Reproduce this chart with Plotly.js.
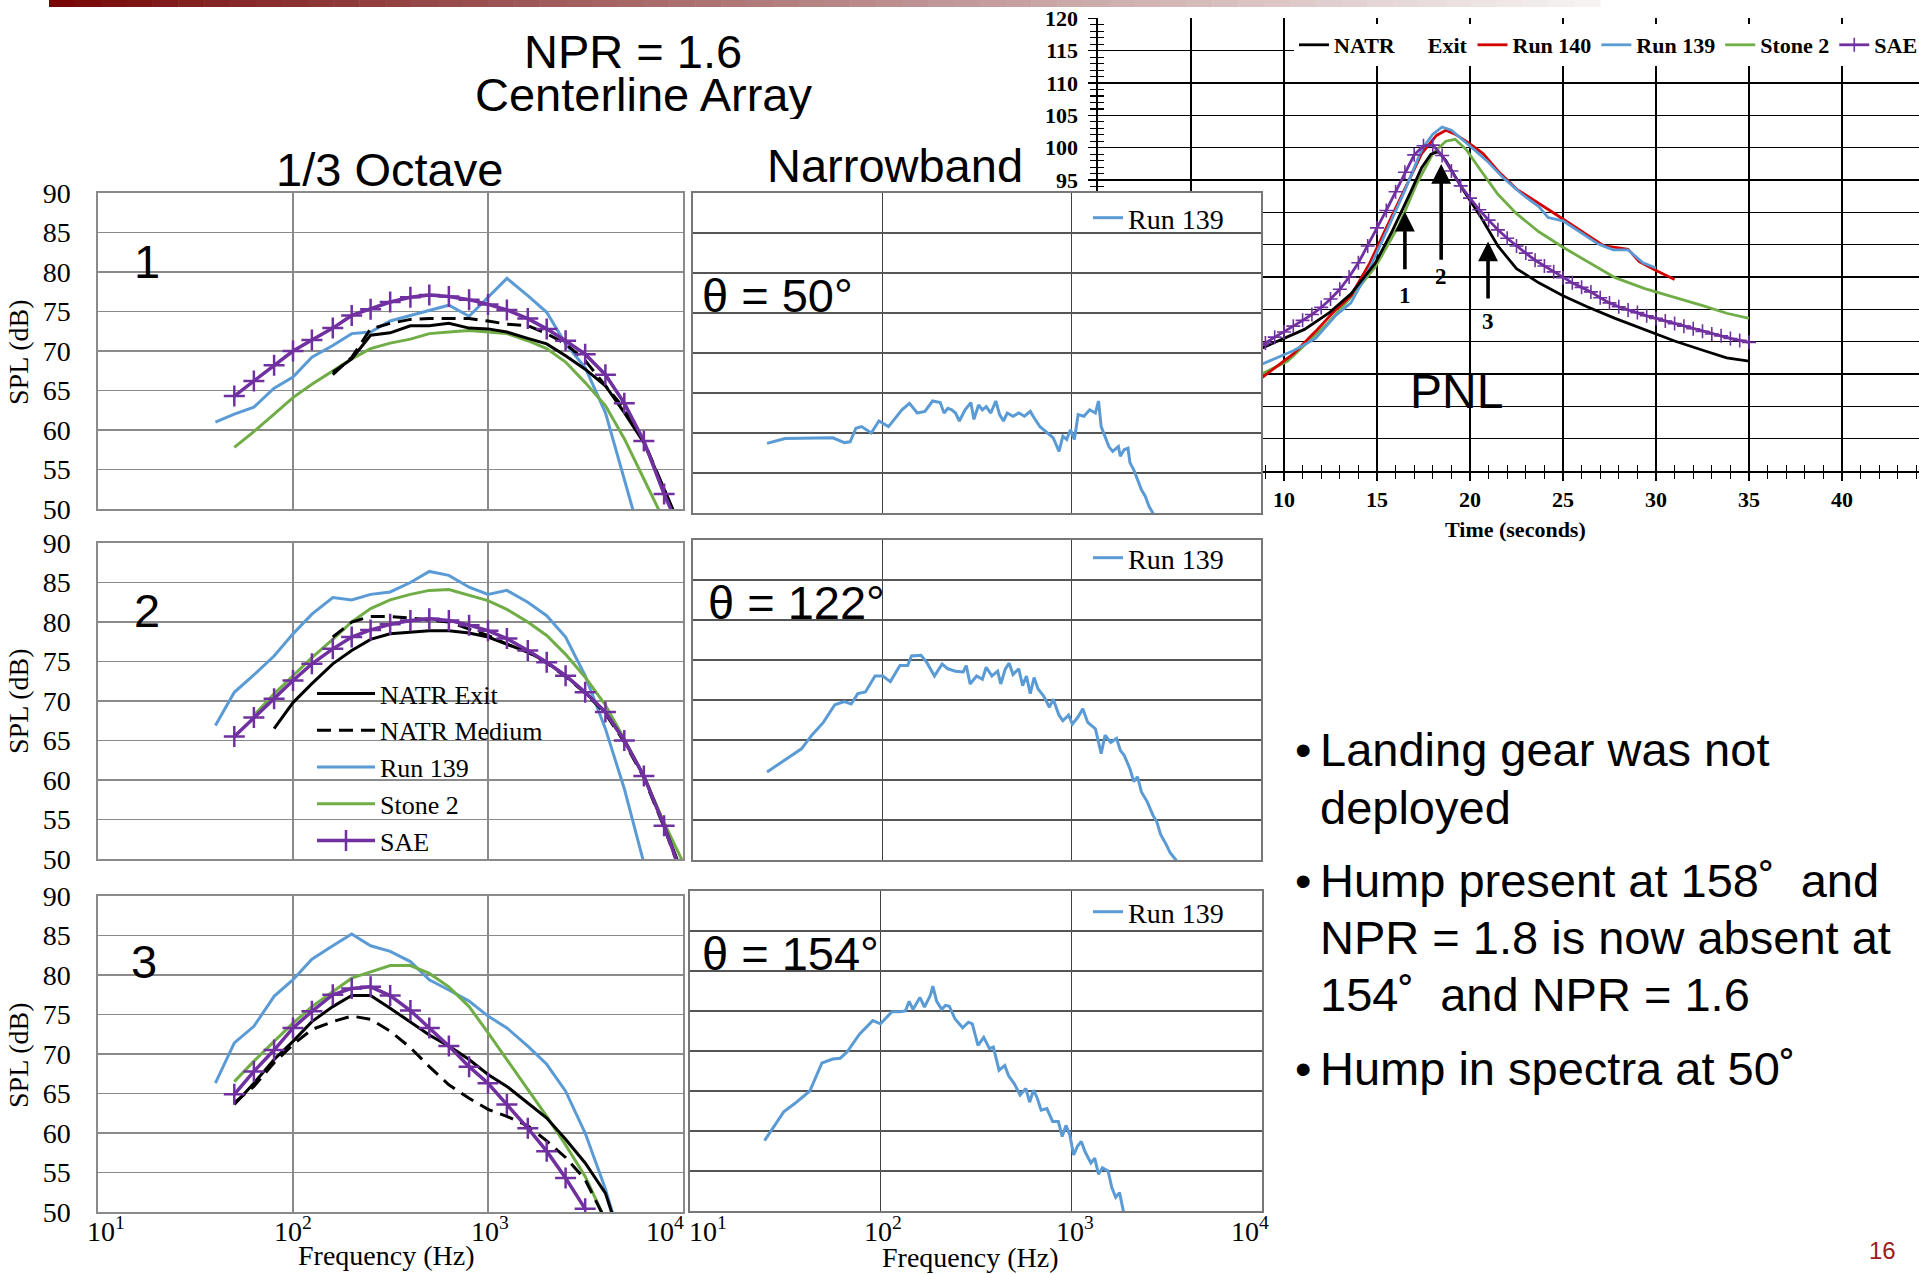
<!DOCTYPE html>
<html>
<head>
<meta charset="utf-8">
<script src="https://cdn.plot.ly/plotly-3.0.1.min.js"></script>
<style>
  html, body { margin: 0; padding: 0; background: #fff; overflow: hidden; }
  #chart { width: 1919px; height: 1274px; overflow: hidden; position: relative; }
</style>
</head>
<body>
<div id="chart"></div>
<script>
// ---------- 1/3-octave band centre frequencies (Hz) ----------
const THIRD_OCTAVE_HZ = [40, 50, 63, 80, 100, 125, 160, 200, 250, 315, 400, 500, 630,
  800, 1000, 1250, 1600, 2000, 2500, 3150, 4000, 5000, 6300, 8000, 10000];
const DECADE_TICKS = [10, 100, 1000, 10000];
const DECADE_LABELS = ['10<sup>1</sup>', '10<sup>2</sup>', '10<sup>3</sup>', '10<sup>4</sup>'];
const SPL_TICKS = [50, 55, 60, 65, 70, 75, 80, 85, 90];
const PNL_TIME_TICKS = [0, 5, 10, 15, 20, 25, 30, 35, 40, 45];
const PNL_LEVEL_TICKS = [50, 55, 60, 65, 70, 75, 80, 85, 90, 95, 100, 105, 110, 115, 120];

// ---------- Microphone 1 (1/3 octave, SPL dB) ----------
const P1_NATR_EXIT = [null, null, null, null, null, null, 67.3, 69.0, 72.0, 72.3, 73.2, 73.2, 73.5,
  72.9, 72.8, 72.4, 71.6, 70.9, 69.4, 67.7, 65.6, 62.2, 58.4, 52.5, 47.0];
const P1_NATR_MEDIUM = [null, null, null, null, null, null, 67.0, 69.2, 72.8, 73.5, 74.0, 74.1, 74.1,
  74.1, 73.8, 73.4, 73.2, 72.2, 70.9, 68.8, 65.6, 62.7, 58.6, 52.3, 46.8];
const P1_RUN139 = [61.0, 62.0, 62.9, 65.3, 66.7, 69.2, 70.7, 72.2, 72.4, 73.8, 74.5, 75.1, 75.8,
  74.4, 76.8, 79.2, 77.0, 74.9, 70.9, 67.9, 62.2, 53.6, 45.0, null, null];
const P1_STONE2 = [null, 57.8, 59.8, 62.0, 64.1, 65.8, 67.5, 69.0, 70.3, 71.0, 71.5, 72.2, 72.4,
  72.6, 72.4, 72.2, 71.3, 70.3, 68.6, 66.0, 63.1, 58.9, 53.8, 48.5, null];
const P1_SAE = [null, 64.3, 66.2, 68.2, 70.0, 71.4, 72.9, 74.5, 75.3, 76.2, 76.8, 77.1, 76.9,
  76.5, 75.9, 75.2, 74.1, 72.8, 71.3, 69.6, 67.0, 63.4, 58.6, 51.9, 46.5];

// ---------- Microphone 2 ----------
const P2_NATR_EXIT = [null, null, null, 66.5, 69.8, 72.2, 74.7, 76.4, 77.8, 78.5, 78.7, 78.9, 78.9,
  78.6, 78.1, 77.2, 76.2, 74.9, 73.2, 71.1, 68.6, 65.0, 60.5, 54.2, 48.0];
const P2_NATR_MEDIUM = [null, null, null, null, null, null, 78.1, 80.0, 80.7, 80.7, 80.5, 80.3, 80.0,
  79.1, 78.3, 77.2, 76.2, 74.8, 73.1, 71.0, 68.4, 64.8, 60.3, 54.0, 47.5];
const P2_RUN139 = [66.9, 71.1, 73.3, 75.7, 78.5, 81.0, 83.1, 82.8, 83.5, 83.8, 85.0, 86.4, 85.9,
  84.4, 83.5, 84.0, 82.5, 80.8, 78.1, 73.2, 66.5, 58.9, 49.5, null, null];
const P2_STONE2 = [null, null, 68.2, 70.9, 73.2, 75.5, 77.8, 80.0, 81.7, 82.8, 83.5, 84.0, 84.1,
  83.4, 82.7, 81.6, 80.0, 78.3, 75.9, 73.0, 69.5, 65.2, 60.5, 54.6, 49.6];
const P2_SAE = [null, 65.5, 67.9, 70.3, 72.6, 74.7, 76.6, 78.1, 79.0, 79.7, 80.2, 80.4, 80.2,
  79.6, 78.9, 77.9, 76.4, 74.9, 73.2, 71.1, 68.6, 65.0, 60.5, 54.2, 47.5];

// ---------- Microphone 3 ----------
const P3_NATR_EXIT = [null, 63.6, 66.3, 69.3, 71.6, 74.1, 76.0, 77.4, 77.4, 75.8, 74.1, 72.4, 71.0,
  69.3, 67.4, 65.9, 63.8, 61.9, 59.2, 56.2, 52.4, 45.0, null, null, null];
const P3_NATR_MEDIUM = [null, 63.8, 65.9, 68.9, 71.2, 73.1, 74.1, 74.8, 74.4, 72.9, 70.8, 68.4, 66.1,
  64.4, 63.0, 62.1, 60.9, 59.0, 56.9, 54.1, 49.0, null, null, null, null];
const P3_RUN139 = [66.3, 71.4, 73.5, 77.3, 79.4, 82.0, 83.7, 85.2, 83.7, 83.0, 81.7, 79.4, 78.1,
  76.7, 74.8, 73.3, 71.0, 68.7, 65.3, 60.0, 52.9, 45.0, null, null, null];
const P3_STONE2 = [null, 66.5, 69.1, 71.6, 73.9, 76.0, 77.9, 79.6, 80.4, 81.2, 81.2, 80.2, 78.5,
  76.0, 72.7, 69.3, 65.5, 62.1, 58.5, 54.5, 49.0, null, null, null, null];
const P3_SAE = [null, 64.9, 67.8, 70.5, 73.3, 75.4, 77.5, 78.3, 78.5, 77.4, 75.5, 73.3, 71.0,
  68.4, 66.3, 63.6, 60.6, 57.7, 54.3, 50.4, null, null, null, null, null];

// ---------- Narrowband spectra, Run 139 ----------
const NB50_HZ = [24.6, 30.6, 54.8, 63.0, 67.6, 72.5, 77.7, 87.4, 95.9, 107.8, 126.9, 139.2, 152.9,
  167.8, 184.2, 202.2, 211.8, 221.9, 232.5, 243.6, 255.2, 273.6, 293.5, 304.6, 322.2, 337.6, 353.7,
  374.1, 397.5, 416.4, 436.3, 457.1, 490.1, 525.6, 563.6, 604.4, 633.2, 679.2, 745.7, 799.5, 857.5,
  898.3, 941.3, 986.1, 1033, 1082, 1161, 1245, 1335, 1386, 1432, 1514, 1572, 1647, 1766, 1807, 1894,
  1984, 2031, 2128, 2229, 2336, 2447, 2564, 2686, 2786];
const NB50_DB = [58.7, 59.3, 59.4, 58.8, 58.9, 60.6, 60.8, 60.0, 61.5, 60.8, 62.9, 63.7, 62.5,
  62.7, 64.0, 63.8, 62.5, 63.1, 62.9, 62.5, 61.5, 62.9, 63.8, 61.7, 63.5, 62.9, 63.3,
  62.5, 64.0, 62.3, 61.5, 62.5, 62.1, 62.5, 62.1, 62.7, 61.9, 60.8, 60.0, 59.4, 57.7,
  59.6, 59.2, 60.4, 59.2, 62.3, 62.1, 62.9, 62.5, 64.0, 60.8, 59.4, 58.3, 57.7, 58.3, 57.1, 57.9,
  58.1, 56.3, 55.4, 54.2, 52.9, 52.1, 50.8, 50.0, 49.3];

const NB122_HZ = [24.6, 37.4, 42.4, 48.8, 56.1, 63.0, 68.5, 74.2, 81.4, 91.5, 100.5, 110.3, 123.9,
  136.0, 142.5, 160.1, 171.7, 188.5, 206.9, 221.9, 243.6, 267.4, 277.5, 290.8, 314.8, 337.6, 353.7,
  379.3, 406.7, 422.1, 446.4, 467.7, 490.1, 525.6, 550.7, 576.9, 604.4, 633.2, 663.5, 711.5, 763.0,
  799.5, 857.5, 898.3, 963.4, 1009, 1082, 1145, 1216, 1335, 1432, 1500, 1609, 1725, 1807, 1894, 2031,
  2128, 2229, 2336, 2505, 2686, 2814, 2949, 3162, 3313, 3553, 3715];
const NB122_DB = [61.0, 63.9, 65.6, 67.2, 69.4, 69.8, 69.5, 70.8, 71.0, 73.0, 73.0, 72.3, 74.3,
  74.3, 75.5, 75.6, 74.7, 73.0, 74.5, 73.9, 73.6, 73.5, 74.3, 72.0, 73.0, 72.6, 74.1,
  73.0, 73.6, 72.0, 73.9, 74.6, 73.2, 73.9, 71.8, 73.0, 70.8, 72.8, 71.4, 70.5, 69.1,
  70.1, 68.1, 67.4, 68.1, 67.0, 67.9, 68.9, 67.2, 66.4, 63.3, 65.6, 64.7, 65.2, 63.7, 63.1, 61.4,
  59.8, 60.4, 58.5, 57.3, 55.6, 54.8, 53.2, 51.9, 50.9, 50.0, 49.3];

const NB154_HZ = [24.6, 31.0, 35.3, 42.5, 49.2, 56.0, 61.4, 66.8, 77.4, 90.9, 99.8, 114.6, 125.7,
  134.7, 141.1, 147.7, 160.6, 169.7, 181.9, 187.8, 196.7, 208.9, 218.8, 229.1, 245.6, 269.3, 288.6,
  302.3, 323.9, 347.2, 372.1, 389.7, 417.7, 447.6, 468.8, 502.5, 538.6, 577.2, 604.3, 633.0, 663.0,
  694.3, 744.1, 797.4, 854.8, 895.3, 937.4, 981.8, 1028, 1077, 1128, 1181, 1266, 1326, 1388, 1454,
  1558, 1632, 1709, 1790, 1874, 1928];
const NB154_DB = [58.8, 62.4, 63.4, 65.0, 68.5, 69.0, 69.1, 69.9, 72.1, 73.8, 73.4, 74.9, 74.9,
  75.0, 76.2, 75.2, 76.7, 75.5, 76.9, 78.1, 76.2, 75.2, 75.7, 75.6, 74.0, 72.9, 73.6,
  73.4, 70.7, 71.7, 70.3, 70.5, 67.6, 68.2, 66.9, 65.9, 64.5, 65.3, 63.6, 65.1, 64.1,
  62.6, 62.8, 61.2, 61.2, 59.3, 60.7, 59.5, 57.0, 58.1, 58.7, 57.4, 56.0, 56.6, 54.6, 55.4,
  55.0, 52.9, 51.7, 52.3, 50.0, 49.3];

// ---------- PNL time histories (time s, PNdB) ----------
const PNL_NATR_T = [8.8, 11.1, 12.4, 13.6, 14.9, 15.8, 16.8, 17.4, 17.9, 18.3, 18.7, 19.6, 20.6,
  21.5, 22.5, 23.7, 25.0, 26.3, 27.8, 29.4, 31.0, 32.6, 33.8, 35.0];
const PNL_NATR = [69.0, 71.9, 74.4, 77.4, 82.1, 87.0, 93.1, 96.9, 99.0, 99.4, 98.0, 93.6, 89.2,
  84.8, 81.3, 79.1, 77.1, 75.4, 73.6, 71.8, 70.1, 68.6, 67.5, 67.0];
const PNL_RUN140_T = [8.8, 10.5, 11.7, 12.7, 13.6, 14.6, 15.5, 16.5, 17.4, 18.2, 18.7, 19.2, 19.9,
  20.7, 21.5, 22.5, 23.4, 24.4, 25.3, 26.3, 27.2, 27.8, 28.5, 29.1, 30.0, 31.0];
const PNL_RUN140 = [64.4, 68.1, 71.6, 74.7, 77.1, 82.1, 87.6, 93.6, 99.1, 101.9, 102.7, 102.1, 100.8,
  99.1, 96.4, 93.6, 92.0, 90.1, 88.4, 86.5, 84.8, 84.6, 84.3, 82.4, 81.0, 79.6];
const PNL_RUN139_T = [8.8, 10.5, 11.7, 12.8, 13.6, 14.6, 15.5, 16.5, 17.4, 18.0, 18.5, 19.0, 19.9,
  20.9, 21.8, 22.8, 23.7, 24.2, 25.0, 25.9, 26.9, 27.7, 28.5, 29.3, 30.0];
const PNL_RUN139 = [66.5, 68.6, 70.5, 74.1, 76.0, 81.3, 87.0, 93.4, 99.7, 102.1, 103.2, 102.7, 100.5,
  98.0, 95.3, 92.8, 90.9, 89.2, 88.7, 87.0, 85.1, 84.2, 84.2, 82.2, 81.4];
const PNL_STONE2_T = [8.8, 10.2, 11.3, 12.4, 13.6, 14.9, 16.2, 17.1, 18.0, 18.7, 19.2, 19.8, 20.6,
  21.5, 22.5, 23.7, 25.0, 26.3, 27.8, 29.4, 31.0, 32.6, 33.8, 35.0];
const PNL_STONE2 = [65.0, 67.0, 70.0, 73.0, 76.9, 81.5, 88.1, 94.2, 99.1, 101.0, 101.3, 99.7, 96.4,
  92.8, 89.8, 87.0, 84.6, 82.4, 79.9, 78.2, 76.9, 75.5, 74.4, 73.6];
const PNL_SAE_T = [8.8, 9.0, 9.5, 10.0, 10.5, 11.0, 11.5, 12.0, 12.5, 13.0, 13.5, 14.0, 14.5, 15.0,
  15.5, 16.0, 16.5, 17.0, 17.5, 18.0, 18.5, 19.0, 19.5, 20.0, 20.5, 21.0, 21.5, 22.0, 22.5, 23.0,
  23.5, 24.0, 24.5, 25.0, 25.5, 26.0, 26.5, 27.0, 27.5, 28.0, 28.5, 29.0, 29.5, 30.0, 30.5, 31.0,
  31.5, 32.0, 32.5, 33.0, 33.5, 34.0, 34.5, 35.0];
const PNL_SAE = [69.5, 69.8, 70.7, 71.5, 72.4, 73.3, 74.2, 75.3, 76.6, 78.1, 80.0, 82.2, 84.8, 87.6,
  90.3, 93.2, 96.2, 98.9, 100.3, 100.4, 98.8, 96.4, 94.1, 92.2, 90.4, 88.8, 87.3, 86.0, 84.8, 83.7,
  82.6, 81.7, 80.8, 79.9, 79.1, 78.4, 77.7, 76.8, 76.0, 75.4, 74.9, 74.5, 74.0, 73.6, 73.2, 72.8,
  72.4, 72.0, 71.6, 71.2, 70.9, 70.5, 70.2, 69.9];

// Observer positions marked on the PNL history: [label, time, arrow head, arrow tail, label level]
const PNL_MARKS = [['1', 16.5, 90.1, 81.5, 77.2], ['2', 18.45, 97.5, 83.0, 80.1], ['3', 20.97, 85.5, 77.0, 73.1]];

// ---------- page geometry (pixels) ----------
const W = 1919, H = 1274;
const fx = p => p / W;
const fy = p => 1 - p / H;

const SANS = 'Liberation Sans, Arial, sans-serif';
const SERIF = 'Liberation Serif, Times New Roman, serif';
const COLORS = { natr: '#000000', run140: '#D40000', run139: '#5B9BD5', stone2: '#70AD47', sae: '#7030A0' };

const OCT_X = [98, 683];
const OCT_ROWS = [[193, 509], [543, 859], [896, 1212]];
const NB_X = [[693, 1261], [693, 1261], [690, 1262]];
const NB_ROWS = [[193, 513], [540, 860], [891, 1211]];
const PNL_X0 = 1098, PNL_TOP = 18.4, PNL_BOTTOM = 471;
const PNL_SEC_PX = 18.6;

// ---------- traces ----------
const traces = [];

const octaveRows = [
  { natrExit: P1_NATR_EXIT, natrMedium: P1_NATR_MEDIUM, run139: P1_RUN139, stone2: P1_STONE2, sae: P1_SAE },
  { natrExit: P2_NATR_EXIT, natrMedium: P2_NATR_MEDIUM, run139: P2_RUN139, stone2: P2_STONE2, sae: P2_SAE },
  { natrExit: P3_NATR_EXIT, natrMedium: P3_NATR_MEDIUM, run139: P3_RUN139, stone2: P3_STONE2, sae: P3_SAE }
];

octaveRows.forEach((row, i) => {
  const xa = 'x' + (i + 2), ya = 'y' + (i + 2);
  const withLegend = i === 1;
  const base = { type: 'scatter', x: THIRD_OCTAVE_HZ, xaxis: xa, yaxis: ya, hoverinfo: 'skip',
    showlegend: withLegend, legend: 'legend2', connectgaps: false };
  traces.push(Object.assign({}, base, { name: 'Run 139', y: row.run139, mode: 'lines', legendrank: 3,
    line: { color: COLORS.run139, width: 3 } }));
  traces.push(Object.assign({}, base, { name: 'Stone 2', y: row.stone2, mode: 'lines', legendrank: 4,
    line: { color: COLORS.stone2, width: 3 } }));
  traces.push(Object.assign({}, base, { name: 'NATR Exit', y: row.natrExit, mode: 'lines', legendrank: 1,
    line: { color: COLORS.natr, width: 3 } }));
  traces.push(Object.assign({}, base, { name: 'NATR Medium', y: row.natrMedium, mode: 'lines', legendrank: 2,
    line: { color: COLORS.natr, width: 3, dash: '14px,8px' } }));
  traces.push(Object.assign({}, base, { name: 'SAE', y: row.sae, mode: 'lines+markers', legendrank: 5,
    line: { color: COLORS.sae, width: 3.5 },
    marker: { symbol: 'cross-thin', size: 15, color: COLORS.sae, line: { color: COLORS.sae, width: 2.5 } } }));
});

[[NB50_HZ, NB50_DB], [NB122_HZ, NB122_DB], [NB154_HZ, NB154_DB]].forEach((s, i) => {
  traces.push({ type: 'scatter', mode: 'lines', name: 'Run 139', x: s[0], y: s[1],
    xaxis: 'x' + (i + 5), yaxis: 'y' + (i + 5), legend: 'legend' + (i + 3),
    line: { color: COLORS.run139, width: 3 }, hoverinfo: 'skip' });
});

// PNL histories
traces.push({ type: 'scatter', mode: 'lines', name: 'Stone 2', x: PNL_STONE2_T, y: PNL_STONE2,
  legendrank: 4, line: { color: COLORS.stone2, width: 2.8 }, hoverinfo: 'skip' });
traces.push({ type: 'scatter', mode: 'lines', name: 'Run 140', x: PNL_RUN140_T, y: PNL_RUN140,
  legendrank: 2, line: { color: COLORS.run140, width: 2.8 }, hoverinfo: 'skip' });
traces.push({ type: 'scatter', mode: 'lines', name: 'Run 139', x: PNL_RUN139_T, y: PNL_RUN139,
  legendrank: 3, line: { color: COLORS.run139, width: 2.8 }, hoverinfo: 'skip' });
traces.push({ type: 'scatter', mode: 'lines',
  name: 'NATR\u00a0\u00a0\u00a0\u00a0\u00a0\u00a0Exit', x: PNL_NATR_T, y: PNL_NATR,
  legendrank: 1, line: { color: COLORS.natr, width: 2.8 }, hoverinfo: 'skip' });
traces.push({ type: 'scatter', mode: 'lines+markers', name: 'SAE', x: PNL_SAE_T, y: PNL_SAE,
  legendrank: 5, line: { color: COLORS.sae, width: 2.8 },
  marker: { symbol: 'cross-thin', size: 10, color: COLORS.sae, line: { color: COLORS.sae, width: 1.6 } },
  hoverinfo: 'skip' });
// companion axes that give the PNL axes their inner tick halves
traces.push({ type: 'scatter', x: [], y: [], xaxis: 'x8', yaxis: 'y8', showlegend: false, hoverinfo: 'skip' });

// ---------- axes ----------
const layout = {
  width: W, height: H, margin: { l: 0, r: 0, t: 0, b: 0, autoexpand: false },
  paper_bgcolor: '#ffffff', plot_bgcolor: '#ffffff',
  hovermode: false, showlegend: true,
  font: { family: SERIF, color: '#000' }
};

const pnlRange = [0, (W - PNL_X0) / PNL_SEC_PX];
const boldTick = { family: SERIF, size: 22, weight: 'bold', color: '#000' };
layout.xaxis = { domain: [fx(PNL_X0), 1], range: pnlRange, anchor: 'y', tickvals: PNL_TIME_TICKS,
  showgrid: true, gridcolor: '#000', gridwidth: 1.4, zeroline: false,
  showline: true, linecolor: '#000', linewidth: 1.6,
  ticks: 'outside', ticklen: 8, tickwidth: 1.4, tickcolor: '#000', ticklabelstandoff: 0,
  minor: { dtick: 1, tick0: 0, ticks: 'outside', ticklen: 6, tickwidth: 1.2, tickcolor: '#000', showgrid: false },
  tickfont: boldTick };
layout.yaxis = { domain: [fy(PNL_BOTTOM), fy(PNL_TOP)], range: [50, 120], anchor: 'x', tickvals: PNL_LEVEL_TICKS,
  showgrid: true, gridcolor: '#000', gridwidth: 1.4, zeroline: false,
  showline: true, linecolor: '#000', linewidth: 1.6,
  ticks: 'outside', ticklen: 8, tickwidth: 1.4, tickcolor: '#000', ticklabelstandoff: 6,
  minor: { dtick: 1, tick0: 50, ticks: 'outside', ticklen: 6, tickwidth: 1.2, tickcolor: '#000', showgrid: false },
  tickfont: boldTick };
layout.xaxis8 = { overlaying: 'x', anchor: 'y8', range: pnlRange, tickvals: PNL_TIME_TICKS,
  showgrid: false, zeroline: false, showline: false, showticklabels: false,
  ticks: 'inside', ticklen: 8, tickwidth: 1.4, tickcolor: '#000',
  minor: { dtick: 1, tick0: 0, ticks: 'inside', ticklen: 6, tickwidth: 1.2, tickcolor: '#000', showgrid: false } };
layout.yaxis8 = { overlaying: 'y', anchor: 'x8', range: [50, 120], tickvals: PNL_LEVEL_TICKS,
  showgrid: false, zeroline: false, showline: false, showticklabels: false,
  ticks: 'inside', ticklen: 8, tickwidth: 1.4, tickcolor: '#000',
  minor: { dtick: 1, tick0: 50, ticks: 'inside', ticklen: 6, tickwidth: 1.2, tickcolor: '#000', showgrid: false } };

const serifTick = { family: SERIF, size: 28, color: '#000' };
OCT_ROWS.forEach((r, i) => {
  const n = i + 2;
  layout['xaxis' + n] = { type: 'log', domain: [fx(OCT_X[0]), fx(OCT_X[1])], range: [1, 4], anchor: 'y' + n,
    tickvals: DECADE_TICKS, showticklabels: false, ticks: '',
    showgrid: true, gridcolor: '#8a8a8a', gridwidth: 1.6, zeroline: false,
    showline: true, mirror: true, linecolor: '#8a8a8a', linewidth: 1.6 };
  layout['yaxis' + n] = { domain: [fy(r[1]), fy(r[0])], range: [50, 90], anchor: 'x' + n,
    tickvals: SPL_TICKS, ticks: '', ticklabelstandoff: 20,
    showgrid: true, gridcolor: '#8a8a8a', gridwidth: 1.6, zeroline: false,
    showline: true, mirror: true, linecolor: '#8a8a8a', linewidth: 1.6, tickfont: serifTick };
});
NB_ROWS.forEach((r, i) => {
  const n = i + 5;
  layout['xaxis' + n] = { type: 'log', domain: [fx(NB_X[i][0]), fx(NB_X[i][1])], range: [1, 4], anchor: 'y' + n,
    tickvals: DECADE_TICKS, showticklabels: false, ticks: '',
    showgrid: true, gridcolor: '#404040', gridwidth: 1.5, zeroline: false,
    showline: true, mirror: true, linecolor: '#777777', linewidth: 1.7 };
  layout['yaxis' + n] = { domain: [fy(r[1]), fy(r[0])], range: [50, 90], anchor: 'x' + n,
    dtick: 5, tick0: 50, ticks: '', showticklabels: false,
    showgrid: true, gridcolor: '#555555', gridwidth: 1.6, zeroline: false,
    showline: true, mirror: true, linecolor: '#777777', linewidth: 1.7 };
});

// ---------- legends ----------
layout.legend = { x: fx(1294), y: fy(24), xanchor: 'left', yanchor: 'top', orientation: 'h',
  bgcolor: '#ffffff', borderwidth: 0, itemwidth: 30, tracegroupgap: 0, itemclick: false,
  font: { family: SERIF, size: 22, weight: 'bold', color: '#000' } };
layout.legend2 = { x: fx(312), y: fy(670), xanchor: 'left', yanchor: 'top', orientation: 'v',
  bgcolor: 'rgba(0,0,0,0)', borderwidth: 0, itemwidth: 58, tracegroupgap: 0, itemclick: false,
  font: { family: SERIF, size: 26, color: '#000' } };
[218, 558, 912].forEach((yc, i) => {
  layout['legend' + (i + 3)] = { x: fx(1088), y: fy(yc), xanchor: 'left', yanchor: 'middle',
    bgcolor: 'rgba(0,0,0,0)', borderwidth: 0, itemwidth: 30, itemclick: false,
    font: { family: SERIF, size: 28, color: '#000' } };
});

// ---------- text ----------
const ann = [];
function label(text, xPx, yPx, opts) {
  ann.push(Object.assign({ text: text, x: fx(xPx), y: fy(yPx), xref: 'paper', yref: 'paper',
    showarrow: false, xanchor: 'center', yanchor: 'middle',
    font: { family: SANS, size: 47, color: '#000' } }, opts || {}));
}
label('NPR = 1.6', 633, 51, { height: 38 });
label('Centerline Array', 643, 94, { height: 50 });
label('1/3 Octave', 389, 169);
label('Narrowband', 895, 165);
label('1', 147, 261);
label('2', 147, 610);
label('3', 144, 962);
label('θ = 50°', 700, 296, { xanchor: 'left' });
label('θ = 122°', 706, 602, { xanchor: 'left' });
label('θ = 154°', 700, 953, { xanchor: 'left' });
[352, 701, 1055].forEach(y => label('SPL (dB)', 18, y, { textangle: -90, font: { family: SERIF, size: 28, color: '#000' } }));
label('Frequency (Hz)', 386, 1255, { font: { family: SERIF, size: 28, color: '#000' } });
label('Frequency (Hz)', 970, 1257, { font: { family: SERIF, size: 28, color: '#000' } });
label('Time (seconds)', 1515, 529, { font: { family: SERIF, size: 22, weight: 'bold', color: '#000' } });

// decade labels under the bottom row, placed on each frequency axis
const OCT_LABEL_SHIFT = [8, 0, 2, -18];
const NB_LABEL_SHIFT = [18, 2, 4, -12];
DECADE_TICKS.forEach((f, k) => {
  [['x4', OCT_LABEL_SHIFT[k]], ['x7', NB_LABEL_SHIFT[k]]].forEach(a => {
    ann.push({ text: DECADE_LABELS[k], x: Math.log10(f), y: fy(1229), xref: a[0], yref: 'paper',
      xshift: a[1], showarrow: false, xanchor: 'center', yanchor: 'middle',
      font: { family: SERIF, size: 28, color: '#000' } });
  });
});

const bulletLines = [
  [749, 'Landing gear was not', true], [807, 'deployed', false],
  [880, 'Hump present at 158˚\u00a0\u00a0and', true], [937, 'NPR = 1.8 is now absent at', false],
  [995, '154˚\u00a0\u00a0and NPR = 1.6', false],
  [1068, 'Hump in spectra at 50˚', true]
];
bulletLines.forEach(b => {
  label(b[1], 1318, b[0], { xanchor: 'left' });
  if (b[2]) label('•', 1303, b[0]);
});
label('16', 1882, 1250, { font: { family: SANS, size: 24, color: '#9B1C1C' } });

// PNL annotations in data coordinates
ann.push({ text: 'PNL', x: 19.3, y: 62.3, xref: 'x', yref: 'y', showarrow: false,
  font: { family: SANS, size: 48, color: '#000' } });
const PNL_DB_PX = (PNL_BOTTOM - PNL_TOP) / 70;
PNL_MARKS.forEach(m => {
  const gap = (m[3] - m[4]) * PNL_DB_PX - 15;
  ann.push({ text: m[0], x: m[1], y: m[2], ax: m[1], ay: m[4], xref: 'x', yref: 'y', axref: 'x', ayref: 'y',
    showarrow: true, arrowhead: 2, arrowsize: 1.1, arrowwidth: 3.6, arrowcolor: '#000',
    startstandoff: gap, borderpad: 0,
    font: { family: SERIF, size: 23, weight: 'bold', color: '#000' } });
});
layout.annotations = ann;

// ---------- slide header band ----------
const shapes = [];
const BAND_X0 = 49, BAND_X1 = 1600, BAND_STEPS = 60;
for (let i = 0; i < BAND_STEPS; i++) {
  const t = i / (BAND_STEPS - 1);
  const r = Math.round(120 + (246 - 120) * t);
  const g = Math.round(6 + (242 - 6) * Math.pow(t, 0.9));
  const b = Math.round(6 + (242 - 6) * Math.pow(t, 0.9));
  const x0 = BAND_X0 + (BAND_X1 - BAND_X0) * i / BAND_STEPS;
  const x1 = BAND_X0 + (BAND_X1 - BAND_X0) * (i + 1) / BAND_STEPS + 0.5;
  shapes.push({ type: 'rect', xref: 'paper', yref: 'paper', x0: fx(x0), x1: fx(x1), y0: fy(7), y1: 1,
    fillcolor: `rgb(${r},${g},${b})`, line: { width: 0 }, layer: 'above' });
}
layout.shapes = shapes;

Plotly.newPlot('chart', traces, layout, { staticPlot: true, displayModeBar: false });
</script>
</body>
</html>
